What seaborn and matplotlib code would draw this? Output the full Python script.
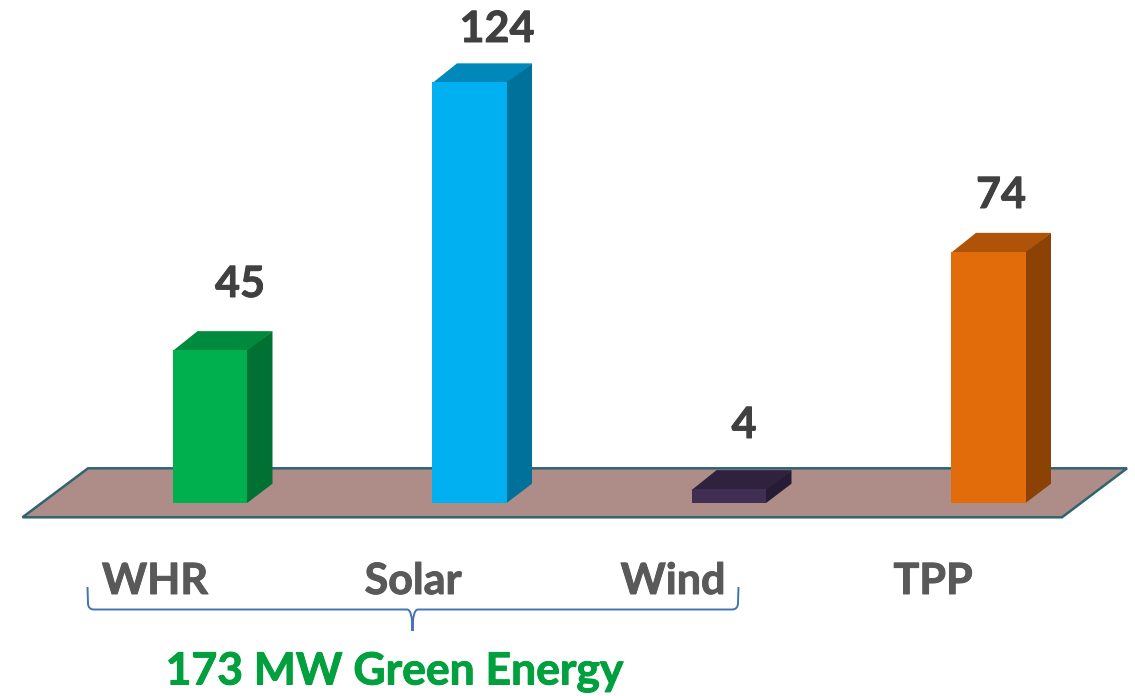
import matplotlib
matplotlib.use('Agg')
import matplotlib.pyplot as plt
import matplotlib.patheffects as pe
import pandas as pd
import seaborn as sns
from matplotlib.patches import Polygon, PathPatch
from matplotlib.path import Path

categories = ['WHR', 'Solar', 'Wind', 'TPP']
values = [45, 124, 4, 74]
front_colors = ['#00B04F', '#00B0F0', '#402F52', '#E36C0A']
top_colors = ['#008A3E', '#0088BA', '#30223F', '#AF5308']
side_colors = ['#007033', '#00719B', '#271C36', '#8C4204']
green_label = '173 MW Green Energy'

# label centres in pixels, the source puts them by hand
value_label_pos = [(240, 284), (497, 29), (744, 425), (1001, 195)]
cat_label_x = [155, 413, 673, 933]

W, H = 1135, 696
sns.set_theme(style='white')
plt.rcParams['font.family'] = ['Lato', 'DejaVu Sans']

df = pd.DataFrame({'source': categories, 'mw': values})

fig = plt.figure(figsize=(W / 100, H / 100), dpi=100)
ax = fig.add_axes([0, 0, 1, 1])
ax.set_zorder(2)
ax.patch.set_alpha(0)

sns.barplot(data=df, x='source', y='mw', hue='source', palette=front_colors,
            order=categories, width=0.289, legend=False, ax=ax, zorder=3,
            linewidth=0, saturation=1)

# one category step is 259.5 px, one MW is 3.39 px, baseline at y=502.7 px
ax.set_xlim(-210 / 259.5, (W - 210) / 259.5)
ax.set_ylim(-(H - 502.7) / 3.39, 502.7 / 3.39)
ax.axis('off')

dx, dy = 25 / 259.5, 19 / 3.39
lap = 1 / 259.5
thick = [pe.withStroke(linewidth=0.7, foreground='#404040')]
thick_grey = [pe.withStroke(linewidth=0.7, foreground='#595959')]
thick_green = [pe.withStroke(linewidth=0.7, foreground='#00A03E')]


def pixels(points):
    return [(x / W, 1 - y / H) for x, y in points]


# floor behind the bars
fig.add_artist(Polygon(pixels([(22.5, 517.3), (88, 468.3), (1127, 468.3), (1062, 517.3)]),
                       closed=True, transform=fig.transFigure, facecolor='#AE8D88',
                       edgecolor='#2F6470', linewidth=1.8, zorder=0))

# depth faces of the 3d bars, tucked under the front face so no seam shows
for bar, top, side, val, pos in zip(ax.patches, top_colors, side_colors, values, value_label_pos):
    x0 = bar.get_x()
    x1 = x0 + bar.get_width()
    h = bar.get_height()
    ax.add_patch(Polygon([(x0, h - 0.3), (x1, h - 0.3), (x1 + dx, h + dy), (x0 + dx, h + dy)],
                         facecolor=top, edgecolor='none', zorder=2.8))
    ax.add_patch(Polygon([(x1 - lap, 0), (x1, 0), (x1 + dx, dy), (x1 + dx, h + dy), (x1, h), (x1 - lap, h)],
                         facecolor=side, edgecolor='none', zorder=2.9))
    fig.text(pos[0] / W, 1 - pos[1] / H, str(val), ha='center', va='center',
             fontsize=31, fontweight='bold', color='#404040', path_effects=thick)

for name, x in zip(categories, cat_label_x):
    fig.text(x / W, 1 - 581 / H, name, ha='center', va='center', fontsize=31,
             fontweight='bold', color='#595959', path_effects=thick_grey)

# curly brace under the first three labels
brace = [(Path.MOVETO, (87.5, 587)), (Path.LINETO, (88, 603)), (Path.CURVE3, (88, 609.5)), (Path.CURVE3, (94, 609.5)),
         (Path.LINETO, (407, 609.5)), (Path.CURVE3, (412.5, 609.5)), (Path.CURVE3, (412.5, 631)),
         (Path.CURVE3, (412.5, 609.5)), (Path.CURVE3, (418, 609.5)),
         (Path.LINETO, (732, 609.5)), (Path.CURVE3, (738, 609.5)), (Path.CURVE3, (738, 603)),
         (Path.LINETO, (738.5, 587))]
codes = [c for c, _ in brace]
verts = pixels([p for _, p in brace])
fig.add_artist(PathPatch(Path(verts, codes), transform=fig.transFigure, facecolor='none',
                         edgecolor='#4472B4', linewidth=1.4))

fig.text(395 / W, 1 - 672 / H, green_label, ha='center', va='center', fontsize=32,
         fontweight='bold', color='#00A03E', path_effects=thick_green)

fig.savefig('out.png', dpi=100)
